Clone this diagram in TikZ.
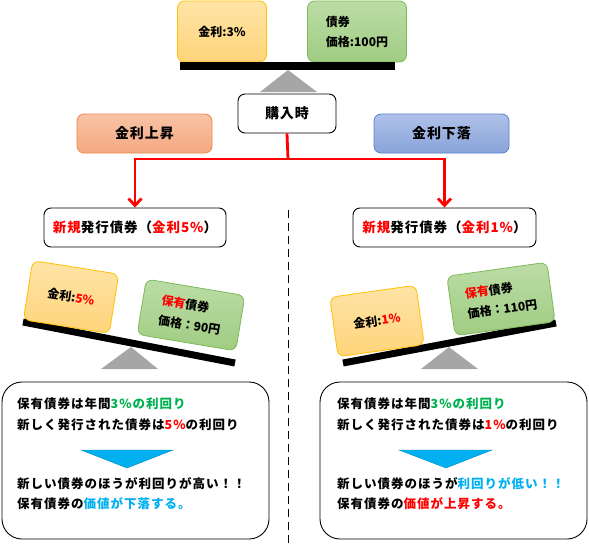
\documentclass[tikz,border=0pt]{standalone}
\usepackage{fontspec}
\setmainfont{Noto Sans CJK JP}
\usetikzlibrary{arrows.meta}
\definecolor{cred}{HTML}{FF0000}
\definecolor{cgreen}{HTML}{00B050}
\definecolor{cblue}{HTML}{00B0F0}
\definecolor{orA}{HTML}{FFE4A6}
\definecolor{orB}{HTML}{FFD47A}
\definecolor{orL}{HTML}{FFC000}
\definecolor{grA}{HTML}{BCDDA6}
\definecolor{grB}{HTML}{9FCC82}
\definecolor{grL}{HTML}{7DB956}
\definecolor{upA}{HTML}{F7C3A5}
\definecolor{upB}{HTML}{F4A882}
\definecolor{upL}{HTML}{EE8A4A}
\definecolor{dnA}{HTML}{AFC1E8}
\definecolor{dnB}{HTML}{88A4DA}
\definecolor{dnL}{HTML}{5B80C8}
\definecolor{beamgray}{HTML}{A6A6A6}
\newcommand{\spaced}{\addfontfeature{LetterSpace=7}}
\tikzset{
  rbox/.style={draw, rounded corners=7pt, line width=0.8pt, inner sep=2pt},
  orbox/.style={rbox, draw=orL, top color=orA, bottom color=orB, font=\bfseries\fontsize{12}{14}\selectfont},
  grbox/.style={rbox, draw=grL, top color=grA, bottom color=grB, align=left, font=\bfseries\fontsize{12}{20}\selectfont},
  upbox/.style={rbox, draw=upL, top color=upA, bottom color=upB, font=\bfseries\fontsize{14}{16}\selectfont\spaced},
  dnbox/.style={rbox, draw=dnL, top color=dnA, bottom color=dnB, font=\bfseries\fontsize{14}{16}\selectfont\spaced},
  wbox/.style={rbox, draw=black, fill=white, line width=0.9pt, font=\bfseries\fontsize{14}{16}\selectfont\spaced},
  sumbox/.style={draw=black, rounded corners=20pt, line width=0.9pt},
  txt/.style={anchor=west, inner sep=0pt, font=\bfseries\fontsize{12.5}{14}\selectfont\addfontfeature{LetterSpace=8}},
  redarrow/.style={draw=cred, line width=2.8pt},
  tri/.style={fill=beamgray},
  bluetri/.style={fill=cblue, draw=cblue!80!black, line width=0.4pt},
}
\begin{document}
\begin{tikzpicture}[x=1pt, y=-1pt]
\useasboundingbox (0,0) rectangle (589,546);

% ---- top balance ----
\node[orbox, minimum width=89, minimum height=61] (o0) at (222,31.5) {金利:3\%};
\node[grbox, minimum width=99, minimum height=61] (g0) at (357,31.5) {債券\\価格:100円};
\fill (180,62) rectangle (395,70);
\fill[tri] (288,70) -- (317,92) -- (260,92) -- cycle;
\node[wbox, minimum width=98, minimum height=39] (buy) at (287,113.5) {購入時};

\node[upbox, minimum width=135, minimum height=39] (up) at (144.5,133.5) {金利上昇};
\node[dnbox, minimum width=135, minimum height=39] (dn) at (441.5,133.5) {金利下落};

\node[wbox, minimum width=182, minimum height=39, font=\bfseries\fontsize{13.5}{16}\selectfont\spaced] (new1) at (135,227.5)
  {\textcolor{cred}{新規}発行債券（\textcolor{cred}{金利5\%}）};
\node[wbox, minimum width=183, minimum height=39, font=\bfseries\fontsize{13.5}{16}\selectfont\spaced] (new2) at (444.5,227.5)
  {\textcolor{cred}{新規}発行債券（\textcolor{cred}{金利1\%}）};

\coordinate (j) at (288,159);
\draw[redarrow] (buy.south) -- (j);
\draw[redarrow, -{Straight Barb[length=7pt,width=13pt]}] (j) -| (new1.north);
\draw[redarrow, -{Straight Barb[length=7pt,width=13pt]}] (j) -| (new2.north);

\draw[dashed, dash pattern=on 8pt off 5pt, line width=1pt] (288,210) -- (288,546);

% ---- left balance ----
\draw[line width=7pt] (23,322) -- (235,363);
\fill[tri] (131,347) -- (158,369) -- (101,369) -- cycle;
\node[orbox, rotate=-9, minimum width=87, minimum height=60] (o1) at (71,297) {金利:\textcolor{cred}{5\%}};
\node[grbox, rotate=-9.5, minimum width=100, minimum height=56] (g1) at (191,315) {\textcolor{cred}{保有}債券\\価格：90円};

% ---- right balance ----
\draw[line width=7pt] (343,363) -- (556,323);
\fill[tri] (449,347) -- (478,369) -- (421,369) -- cycle;
\node[orbox, rotate=8, minimum width=87, minimum height=60] (o2) at (377,321) {金利:\textcolor{cred}{1\%}};
\node[grbox, rotate=8, minimum width=101, minimum height=60] (g2) at (501,299) {\textcolor{cred}{保有}債券\\価格：110円};

% ---- left summary ----
\node[sumbox, minimum width=267, minimum height=157] (s1) at (135.5,460.5) {};
\node[txt] (l1) at (17,404) {保有債券は年間\textcolor{cgreen}{3\%の利回り}};
\node[txt] (l2) at (17,425) {新しく発行された債券は\textcolor{cred}{5\%}の利回り};
\fill[bluetri] (81,450) -- (173,450) -- (127,468) -- cycle;
\node[txt] (l3) at (17,484) {新しい債券のほうが利回りが高い！！};
\node[txt] (l4) at (17,504) {保有債券の\textcolor{cblue}{価値が下落する。}};

% ---- right summary ----
\node[sumbox, minimum width=267, minimum height=157] (s2) at (453.5,460.5) {};
\node[txt] (r1) at (337,404) {保有債券は年間\textcolor{cgreen}{3\%の利回り}};
\node[txt] (r2) at (337,425) {新しく発行された債券は\textcolor{cred}{1\%}の利回り};
\fill[bluetri] (399,450) -- (492,450) -- (446,468) -- cycle;
\node[txt] (r3) at (337,484) {新しい債券のほうが\textcolor{cblue}{利回りが低い！！}};
\node[txt] (r4) at (337,504) {保有債券の\textcolor{cred}{価値が上昇する。}};
\end{tikzpicture}
\end{document}
